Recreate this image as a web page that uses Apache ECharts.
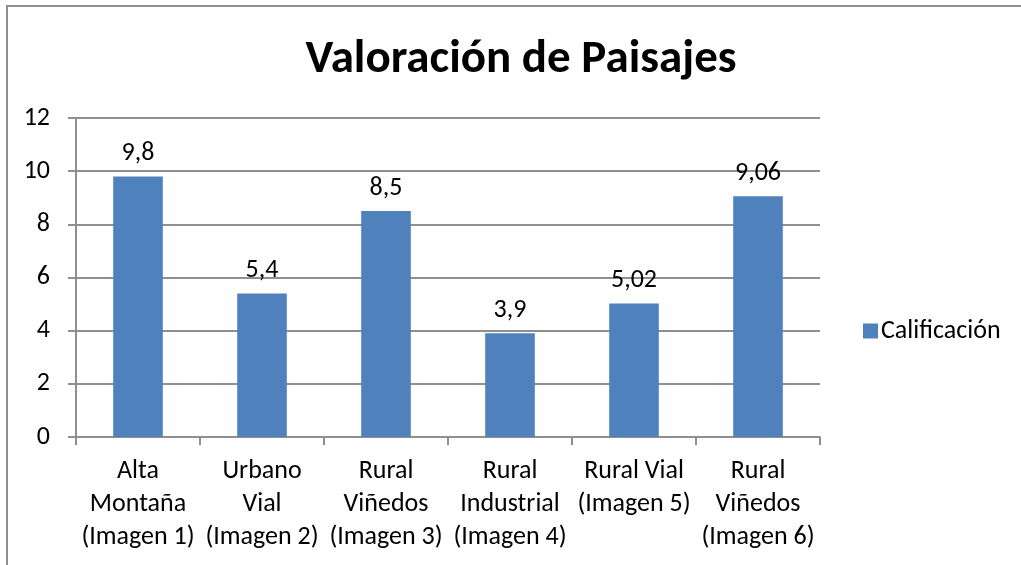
<!DOCTYPE html>
<html>
<head>
<meta charset="utf-8">
<script src="https://cdn.jsdelivr.net/npm/echarts@6/dist/echarts.min.js"></script>
<style>
  html, body { margin: 0; padding: 0; background: #fff; }
  #chart { width: 1021px; height: 565px; }
</style>
</head>
<body>
<div id="chart"></div>
<script>
// datos del gráfico
const categories = [
  'Alta\nMontaña\n(Imagen 1)',
  'Urbano\nVial\n(Imagen 2)',
  'Rural\nViñedos\n(Imagen 3)',
  'Rural\nIndustrial\n(Imagen 4)',
  'Rural Vial\n(Imagen 5)',
  'Rural\nViñedos\n(Imagen 6)'
]
const calificacion = [9.8, 5.4, 8.5, 3.9, 5.02, 9.06]
const seriesName = 'Calificación'
const titleText = 'Valoración de Paisajes'

const font = 'Carlito, Lato, sans-serif'
const gray = '#8f8f8f'

const chart = echarts.init(document.getElementById('chart'))

chart.setOption({
  animation: false,
  textStyle: { fontFamily: font },
  title: {
    text: titleText,
    left: 521,
    top: 37,
    textAlign: 'center',
    padding: 0,
    textStyle: { fontSize: 47, fontWeight: 'bold', color: '#000', fontFamily: font }
  },
  legend: {
    data: [seriesName],
    left: 863,
    top: 318,
    padding: 0,
    icon: 'rect',
    itemWidth: 15,
    itemHeight: 15,
    itemGap: 6,
    textStyle: { fontSize: 26, color: '#000', fontFamily: font, padding: [0, 0, 0, -2] }
  },
  graphic: [
    {
      type: 'rect',
      shape: { x: 7, y: 6, width: 2000, height: 2000 },
      style: { fill: 'none', stroke: gray, lineWidth: 2 },
      silent: true
    }
  ],
  grid: { left: 76, right: 201, top: 118, bottom: 128 },
  xAxis: {
    type: 'category',
    data: categories,
    axisLine: { lineStyle: { color: gray, width: 2 } },
    axisTick: { show: true, length: 8, lineStyle: { color: gray, width: 2 } },
    axisLabel: {
      interval: 0,
      margin: 18,
      fontSize: 26,
      lineHeight: 33,
      color: '#000',
      verticalAlign: 'top',
      fontFamily: font
    }
  },
  yAxis: {
    type: 'value',
    min: 0,
    max: 12,
    interval: 2,
    axisLine: { show: true, lineStyle: { color: gray, width: 2 } },
    axisTick: { show: true, length: 8, lineStyle: { color: gray, width: 2 } },
    axisLabel: { margin: 26, fontSize: 26, color: '#000', fontFamily: font },
    splitLine: { lineStyle: { color: gray, width: 2 } }
  },
  series: [
    {
      name: seriesName,
      type: 'bar',
      data: calificacion,
      barWidth: '40%',
      itemStyle: { color: '#4f81bd' },
      label: {
        show: true,
        position: 'top',
        distance: 10,
        fontSize: 26,
        color: '#000',
        fontFamily: font,
        formatter: p => String(p.value).replace('.', ',')
      }
    }
  ]
})
</script>
</body>
</html>
